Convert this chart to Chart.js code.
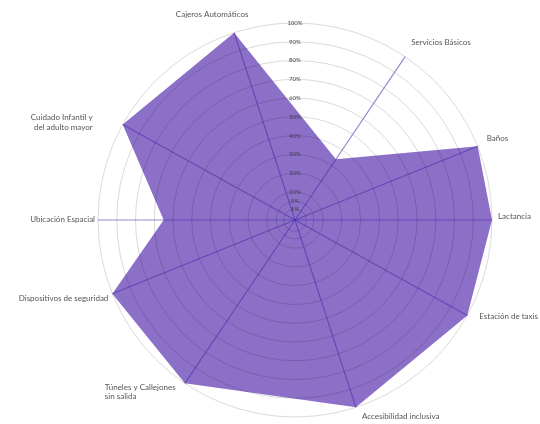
<!DOCTYPE html>
<html>
<head>
<meta charset="utf-8">
<script src="https://cdn.jsdelivr.net/npm/chart.js@4/dist/chart.umd.min.js"></script>
<style>
  html, body { margin: 0; padding: 0; background: #ffffff; }
  #wrap { width: 540px; height: 424px; position: relative; }
</style>
</head>
<body>
<div id="wrap"><canvas id="c"></canvas></div>
<script>
// ---- data ----
const categories = [
  'Cajeros Automáticos',
  'Servicios Básicos',
  'Baños',
  'Lactancia',
  'Estación de taxis',
  'Accesibilidad inclusiva',
  'Túneles y Callejones\nsin salida',
  'Dispositivos de seguridad',
  'Ubicación Espacial',
  'Cuidado Infantil y\ndel adulto mayor'
];
const values = [100, 34, 100, 100, 100, 100, 100, 100, 65, 100];
const tickValues = [1, 5, 10, 20, 30, 40, 50, 60, 70, 80, 90, 100];

// ---- layout (axis directions in degrees, clockwise from top; label placement) ----
const axisAngles = [342, 34, 68, 90, 119, 162, 214, 248, 270, 299];
const labelLayout = [
  {align: 'center', dx: -22, dy: -18},
  {align: 'left',   dx: 6,   dy: -14},
  {align: 'left',   dx: 9,   dy: -8},
  {align: 'left',   dx: 6,   dy: -4},
  {align: 'left',   dx: 12,  dy: 1},
  {align: 'left',   dx: 6,   dy: 9},
  {align: 'left',   dx: -80, dy: 4},
  {align: 'right',  dx: -4,  dy: 5},
  {align: 'right',  dx: -3,  dy: -1},
  {align: 'right',  dx: -30, dy: -7}
];

// radar with one slot per degree so the axes can sit at their own angles
const SLOTS = 360;
const slotLabels = new Array(SLOTS).fill('');
const slotData = new Array(SLOTS).fill(null);
const axisSlot = {};
categories.forEach((c, i) => {
  const s = axisAngles[i] % SLOTS;
  slotLabels[s] = c;
  slotData[s] = values[i];
  axisSlot[s] = i;
});

const labelPlugin = {
  id: 'axisLabels',
  afterDraw(chart) {
    const scale = chart.scales.r;
    const ctx = chart.ctx;
    const dist = scale.getDistanceFromCenterForValue(100);
    ctx.save();
    ctx.font = '8px Lato, "Open Sans", sans-serif';
    ctx.fillStyle = '#555555';
    ctx.textBaseline = 'middle';
    categories.forEach((c, i) => {
      const p = scale.getPointPosition(axisAngles[i] % SLOTS, dist);
      const L = labelLayout[i];
      ctx.textAlign = L.align;
      c.split('\n').forEach((line, k) => {
        ctx.fillText(line, p.x + L.dx, p.y + L.dy + k * 9.5);
      });
    });
    ctx.restore();
  }
};

new Chart(document.getElementById('c'), {
  type: 'radar',
  data: {
    labels: slotLabels,
    datasets: [{
      data: slotData,
      spanGaps: true,
      backgroundColor: '#8c70c8',
      borderColor: '#8c70c8',
      borderWidth: 0,
      fill: 'start',
      pointRadius: 0,
      pointHoverRadius: 0
    }]
  },
  options: {
    responsive: true,
    maintainAspectRatio: false,
    animation: false,
    events: [],
    layout: { padding: { left: 95, right: 45, top: 17, bottom: 1 } },
    plugins: { legend: { display: false }, tooltip: { enabled: false } },
    scales: {
      r: {
        min: -5,
        max: 100,
        startAngle: 0,
        afterBuildTicks(scale) {
          scale.ticks = tickValues.map(v => ({ value: v }));
        },
        grid: { z: 1, circular: true, color: 'rgba(0,0,0,0.15)', lineWidth: 1 },
        angleLines: {
          display: true,
          color: (ctx) => (ctx.index in axisSlot) ? 'rgba(70,40,170,0.55)' : 'rgba(0,0,0,0)',
          lineWidth: (ctx) => (ctx.index in axisSlot) ? 1.2 : 0
        },
        pointLabels: { display: false },
        ticks: {
          z: 2,
          display: true,
          showLabelBackdrop: false,
          backdropPadding: 0,
          color: '#444444',
          font: { size: 6, family: 'Lato, "Open Sans", sans-serif' },
          callback: (v) => v + '%'
        }
      }
    }
  },
  plugins: [labelPlugin]
});
</script>
</body>
</html>
